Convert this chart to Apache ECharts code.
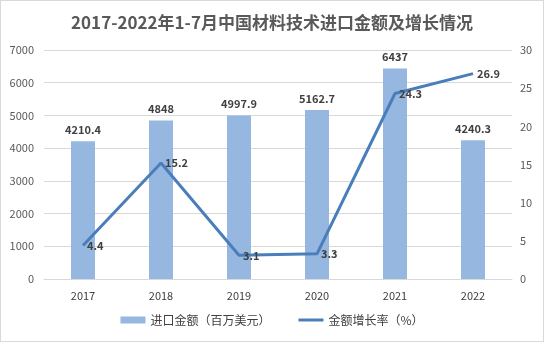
<!DOCTYPE html>
<html>
<head>
<meta charset="utf-8">
<script src="https://cdn.jsdelivr.net/npm/echarts@6/dist/echarts.min.js"></script>
<style>
  html, body { margin: 0; padding: 0; background: #fff; }
  #chart { width: 544px; height: 342px; box-sizing: border-box; border: 1px solid #d9d9d9; }
</style>
</head>
<body>
<div id="chart"></div>
<script>
// Import value of materials technology, Jan–Jul each year
const years = ['2017', '2018', '2019', '2020', '2021', '2022'];
const importValue = [4210.4, 4848, 4997.9, 5162.7, 6437, 4240.3];   // 百万美元
const growthRate = [4.4, 15.2, 3.1, 3.3, 24.3, 26.9];               // %
const leftTicks = { min: 0, max: 7000, interval: 1000 };
const rightTicks = { min: 0, max: 30, interval: 5 };

const font = 'Microsoft YaHei, "Noto Sans CJK SC", "Liberation Sans", sans-serif';
const chart = echarts.init(document.getElementById('chart'), null, { renderer: 'canvas' });

chart.setOption({
  animation: false,
  textStyle: { fontFamily: font },
  title: {
    text: '2017-2022年1-7月中国材料技术进口金额及增长情况',
    left: 'center',
    top: 8,
    textStyle: { fontSize: 17, fontWeight: 'bold', color: '#595959', fontFamily: font }
  },
  legend: {
    bottom: 10,
    left: 'center',
    itemGap: 28,
    itemWidth: 25,
    itemHeight: 7,
    textStyle: { fontSize: 12, color: '#404040', fontFamily: font },
    data: [
      { name: '进口金额（百万美元）', icon: 'rect' },
      { name: '金额增长率（%）', icon: 'path://M0,0 H25 V3 H0 Z' }
    ]
  },
  grid: { left: 43, right: 31, top: 49, bottom: 62 },
  xAxis: {
    type: 'category',
    data: years,
    axisLine: { lineStyle: { color: '#d9d9d9' } },
    axisTick: { show: false },
    axisLabel: { color: '#404040', fontSize: 11, margin: 11, fontFamily: font }
  },
  yAxis: [
    {
      type: 'value',
      min: leftTicks.min, max: leftTicks.max, interval: leftTicks.interval,
      axisLine: { show: false },
      axisTick: { show: false },
      axisLabel: { color: '#595959', fontSize: 11, margin: 10, fontFamily: font, formatter: v => String(v) },
      splitLine: { lineStyle: { color: '#d9d9d9' } }
    },
    {
      type: 'value',
      min: rightTicks.min, max: rightTicks.max, interval: rightTicks.interval,
      axisLine: { show: false },
      axisTick: { show: false },
      axisLabel: { color: '#595959', fontSize: 11, margin: 8, fontFamily: font, formatter: v => String(v) },
      splitLine: { show: false }
    }
  ],
  series: [
    {
      name: '进口金额（百万美元）',
      type: 'bar',
      data: importValue,
      barWidth: 24,
      itemStyle: { color: '#95b7e0' },
      label: {
        show: true, position: 'top', distance: 6,
        color: '#404040', fontSize: 11, fontWeight: 'bold', fontFamily: font
      }
    },
    {
      name: '金额增长率（%）',
      type: 'line',
      yAxisIndex: 1,
      data: growthRate,
      symbol: 'circle',
      symbolSize: 0,
      showSymbol: true,
      lineStyle: { color: '#4a7ebb', width: 3 },
      itemStyle: { color: '#4a7ebb' },
      label: {
        show: true, position: 'right', distance: 4,
        color: '#404040', fontSize: 11, fontWeight: 'bold', fontFamily: font
      }
    }
  ]
});
</script>
</body>
</html>
